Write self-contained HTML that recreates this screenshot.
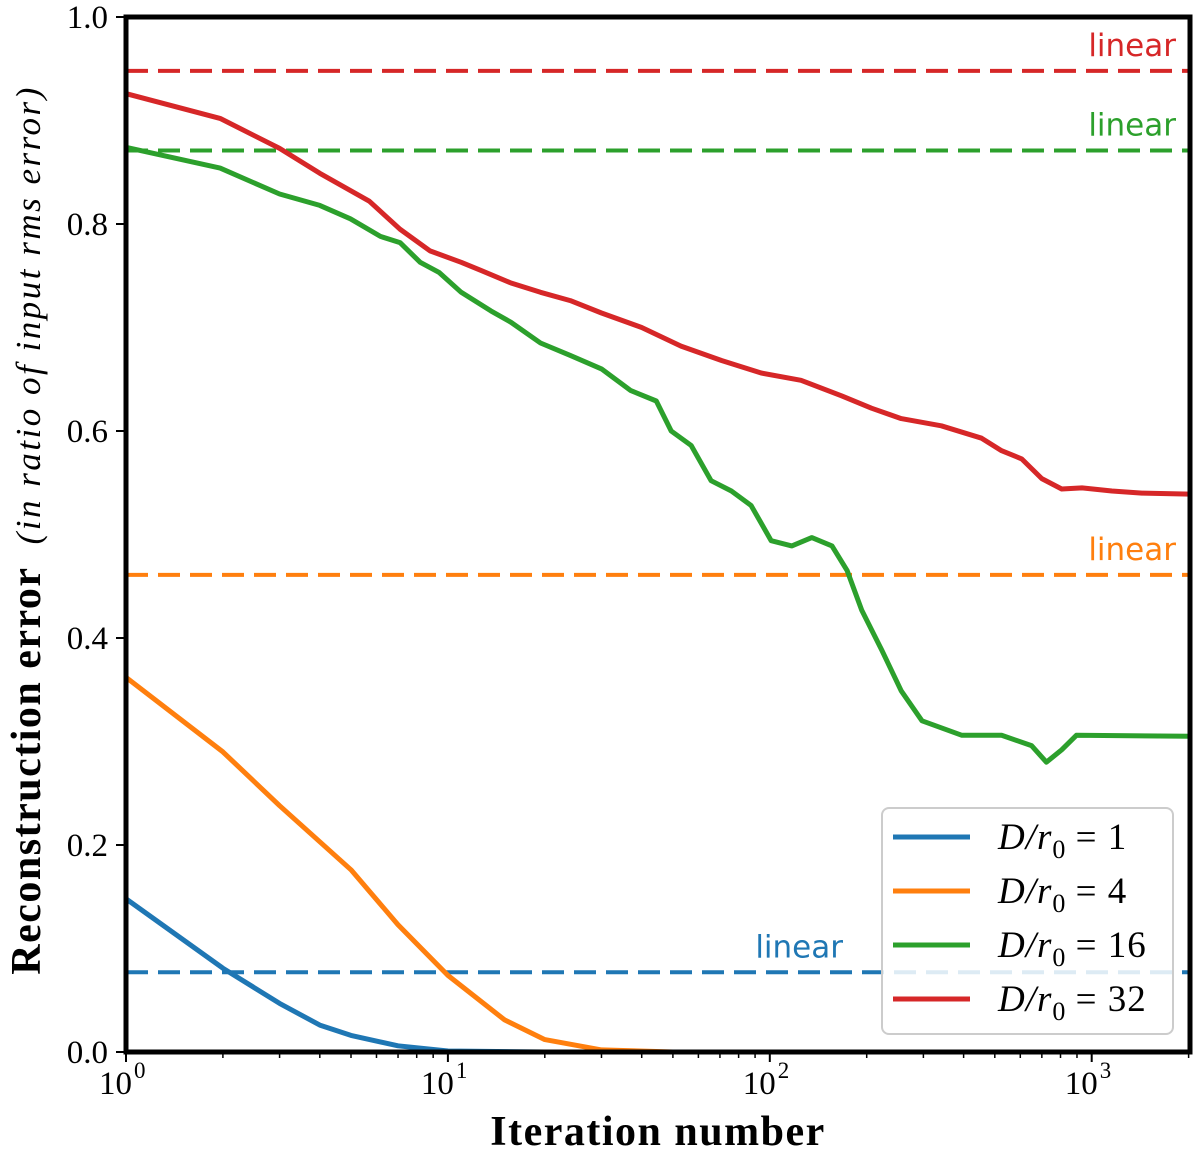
<!DOCTYPE html>
<html><head><meta charset="utf-8"><style>
html,body{margin:0;padding:0;background:#fff;}
svg{display:block;}
text{font-family:"Liberation Serif","DejaVu Serif",serif;}
</style></head><body>
<svg id="chart" width="1200" height="1152" viewBox="0 0 1200 1152" xmlns="http://www.w3.org/2000/svg">
</svg>
<script>
const yTicks=[0,0.2,0.4,0.6,0.8,1.0];
const yTickLabels=["0.0","0.2","0.4","0.6","0.8","1.0"];
const xDecades=[0,1,2,3];
const seriesNames=["D/r0 = 1","D/r0 = 4","D/r0 = 16","D/r0 = 32"];
const colors=["#1f77b4","#ff7f0e","#2ca02c","#d62728"];
const linearValues=[0.077,0.461,0.871,0.948];
const blueX=[1,2,3,4,5,7,10,20,2000];
const blueY=[0.148,0.081,0.047,0.026,0.016,0.006,0.001,0,0];
const orangeX=[1,2,3,5,7,10,15,20,30,50,2000];
const orangeY=[0.362,0.29,0.238,0.176,0.123,0.074,0.031,0.012,0.002,0,0];
const greenX=[1,1.96,3,4,4.98,6.17,7.1,8.2,9.4,11,13.6,15.7,19.4,24,30,37,44.4,49.4,57,65.7,76,87.5,101,117,135,156,174,193,223,256,297,395,525,650,723,807,896,2020];
const greenY=[0.874,0.854,0.829,0.818,0.805,0.788,0.782,0.763,0.753,0.734,0.716,0.705,0.685,0.673,0.660,0.639,0.629,0.600,0.586,0.552,0.542,0.528,0.494,0.489,0.497,0.489,0.465,0.427,0.388,0.349,0.320,0.306,0.306,0.296,0.280,0.292,0.306,0.305];
const redX=[1,1.96,3,4,5.7,7.1,8.8,11,12.7,15.7,19.4,24,30,40,53,71,94,125,167,207,256,341,455,525,606,700,807,933,1155,1432,2020];
const redY=[0.926,0.902,0.873,0.849,0.822,0.795,0.774,0.763,0.755,0.743,0.734,0.726,0.714,0.700,0.682,0.668,0.656,0.649,0.634,0.622,0.612,0.605,0.593,0.581,0.573,0.554,0.544,0.545,0.542,0.540,0.539];

const L=126,R=1190,T=17,B=1052,XMAX=2020;
const xs=v=>L+(Math.log10(v))/Math.log10(XMAX)*(R-L);
const ys=v=>B-v*(B-T);
const NS="http://www.w3.org/2000/svg";
const svg=document.getElementById('chart');
function mk(tag,attrs,parent){const e=document.createElementNS(NS,tag);for(const k in attrs)e.setAttribute(k,attrs[k]);(parent||svg).appendChild(e);return e;}

const defs=mk('defs',{});const cp=mk('clipPath',{id:'pc'},defs);mk('rect',{x:L,y:T,width:R-L,height:B-T},cp);
const plot=mk('g',{'clip-path':'url(#pc)'});



linearValues.forEach((v,i)=>{
  const l=mk('line',{x1:L,x2:R,y1:ys(v),y2:ys(v),stroke:colors[i],'stroke-width':4,'stroke-dasharray':'22,10'},plot);
  
  
  const tx=i==0?843:1176;
  const t=mk('text',{x:tx,y:ys(v)-15,'text-anchor':'end',fill:colors[i],'font-size':31,style:'font-family:"DejaVu Sans",sans-serif'});
  t.textContent='linear';
  
  
});

[[blueX,blueY],[orangeX,orangeY],[greenX,greenY],[redX,redY]].forEach((s,i)=>{
  const d=s[0].map((x,j)=>(j?'L':'M')+xs(x).toFixed(1)+','+ys(s[1][j]).toFixed(1)).join('');
  const p=mk('path',{d:d,fill:'none',stroke:colors[i],'stroke-width':5,'stroke-linejoin':'round'},plot);
  
  
});

const fr=mk('rect',{x:L,y:T,width:R-L,height:B-T,fill:'none',stroke:'#000','stroke-width':5});



yTicks.forEach((v,i)=>{
  mk('line',{x1:L-10,x2:L,y1:ys(v),y2:ys(v),stroke:'#000','stroke-width':2});
  const t=mk('text',{x:L-18,y:ys(v)+11,'text-anchor':'end','font-size':33});
  t.textContent=yTickLabels[i];
  
  
});
xDecades.forEach(d=>{
  const x=xs(Math.pow(10,d));
  mk('line',{x1:x,x2:x,y1:B,y2:B+10,stroke:'#000','stroke-width':2});
  const t=mk('text',{x:x+6,y:B+42,'text-anchor':'end','font-size':33});
  t.textContent='10';
  
  
  const s=mk('text',{x:x+8,y:B+26,'text-anchor':'start','font-size':23});
  s.textContent=String(d);
  for(let m=2;m<=9;m++){const v=m*Math.pow(10,d);if(v>XMAX)break;const xm=xs(v);mk('line',{x1:xm,x2:xm,y1:B,y2:B+6,stroke:'#000','stroke-width':1.5});}
});

const xt=mk('text',{x:658,y:1145,'text-anchor':'middle','font-size':42,'font-weight':'bold','letter-spacing':1.5});
xt.textContent='Iteration number';


const yt=mk('text',{transform:'translate(40,530) rotate(-90)','text-anchor':'middle','font-size':42});


const t1=mk('tspan',{'font-weight':'bold','letter-spacing':1.5},yt);t1.textContent='Reconstruction error';
const t2=mk('tspan',{'font-style':'italic','font-size':35,dx:22,'letter-spacing':2.5},yt);t2.textContent='(in ratio of input rms error)';

const lg=mk('g',{});


mk('rect',{x:882,y:808,width:291,height:226,rx:7,fill:'#fff','fill-opacity':0.85,stroke:'#ccc','stroke-width':2},lg);
seriesNames.forEach((n,i)=>{
  const y=837+i*54;
  mk('line',{x1:893,x2:970,y1:y,y2:y,stroke:colors[i],'stroke-width':5},lg);
  const t=mk('text',{x:998,y:y+12,'font-size':37},lg);
  
  
  const a=mk('tspan',{'font-style':'italic','letter-spacing':1},t);a.textContent='D/r';
  const b=mk('tspan',{'font-size':26,dy:9},t);b.textContent='0';
  const c=mk('tspan',{dy:-9,'letter-spacing':1},t);c.textContent=' = '+n.split('= ')[1];
});
</script>
</body></html>
